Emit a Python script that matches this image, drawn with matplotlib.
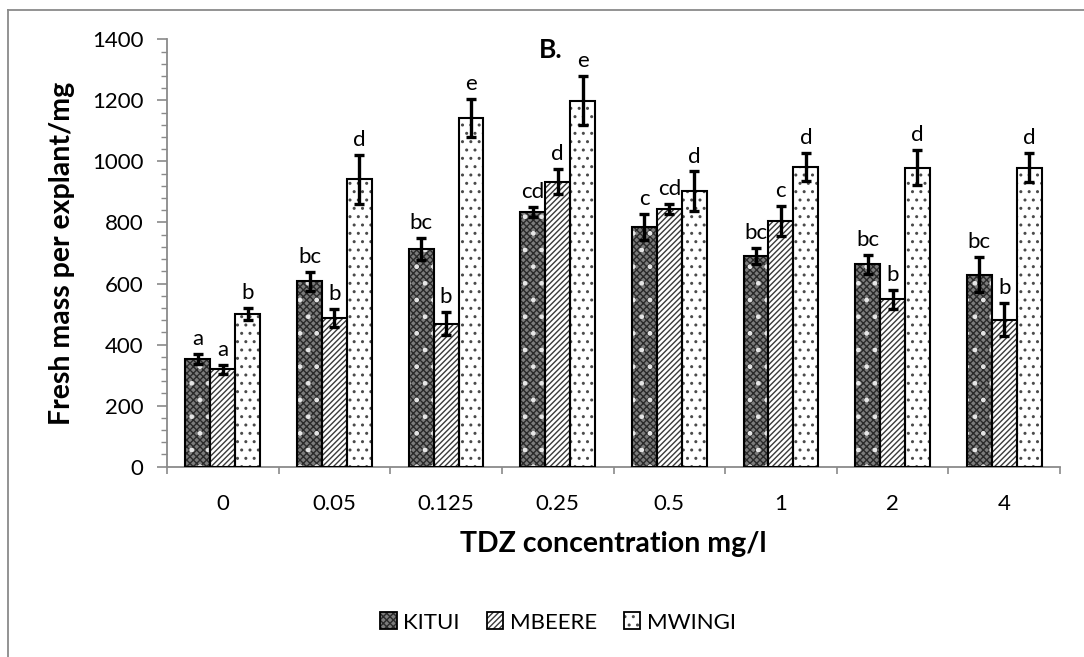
import matplotlib
matplotlib.use("Agg")
import matplotlib.pyplot as plt
from matplotlib.lines import Line2D
from matplotlib.patches import Patch, Rectangle
from matplotlib.legend_handler import HandlerBase
import numpy as np

plt.rcParams['font.family'] = ['Lato', 'DejaVu Sans']
plt.rcParams['hatch.linewidth'] = 1.0

categories = ["0", "0.05", "0.125", "0.25", "0.5", "1", "2", "4"]
series_names = ["KITUI", "MBEERE", "MWINGI"]

kitui = [352, 608, 713, 835, 785, 691, 663, 629]
mbeere = [319, 488, 469, 934, 844, 804, 548, 482]
mwingi = [499, 942, 1142, 1199, 902, 982, 980, 980]

kitui_err = [17, 31, 37, 17, 43, 27, 32, 58]
mbeere_err = [15, 30, 38, 41, 17, 49, 30, 55]
mwingi_err = [20, 80, 62, 81, 65, 45, 58, 48]

kitui_lbl = ["a", "bc", "bc", "cd", "c", "bc", "bc", "bc"]
mbeere_lbl = ["a", "b", "b", "d", "cd", "c", "b", "b"]
mwingi_lbl = ["b", "d", "e", "e", "d", "d", "d", "d"]

values = [kitui, mbeere, mwingi]
errors = [kitui_err, mbeere_err, mwingi_err]
letters = [kitui_lbl, mbeere_lbl, mwingi_lbl]

# fill styles: (face colour, hatch, hatch colour, sparkle layer)
styles = [
    ("#7c7c7c", "xxxxx", "#2a2a2a", True),
    ("white", "//////", "#3a3a3a", False),
    ("white", "..", "#4a4a4a", False),
]

W, H = 1084, 657
fig = plt.figure(figsize=(W / 100, H / 100), dpi=100)
ax = fig.add_axes([167 / W, 1 - 466.7 / H, (1060 - 167) / W, (466.7 - 39.3) / H])

x = np.arange(len(categories))
bw = 0.223
offsets = [-bw, 0, bw]

for vals, errs, lbls, off, (fc, hatch, hc, sparkle) in zip(values, errors, letters, offsets, styles):
    pos = x + off
    ax.bar(pos, vals, bw, color=fc, hatch=hatch, edgecolor=hc, linewidth=0, zorder=2)
    if sparkle:
        ax.bar(pos, vals, bw, color="none", hatch=".", edgecolor="#e6e6e6", linewidth=0, zorder=2.1)
    ax.bar(pos, vals, bw, color="none", edgecolor="black", linewidth=1.5, zorder=3)
    ax.errorbar(pos, vals, yerr=errs, fmt="none", ecolor="black", elinewidth=2.4,
                capsize=3.8, capthick=2.4, zorder=4)
    for p, v, e, t in zip(pos, vals, errs, lbls):
        ax.annotate(t, (p, v + e), xytext=(0, 3.5), textcoords="offset points",
                    ha="center", va="bottom", fontsize=16, color="black", zorder=5)

ax.set_xlim(-0.5, len(categories) - 0.5)
ax.set_ylim(0, 1400)
ax.set_yticks(np.arange(0, 1401, 200))
ax.set_yticks(np.arange(0, 1401, 40), minor=True)
ax.set_xticks(x)
ax.set_xticklabels(categories)
ax.set_xticks(np.arange(-0.5, len(categories)), minor=True)

axis_grey = "#8a8a8a"
for s in ("top", "right"):
    ax.spines[s].set_visible(False)
for s in ("left", "bottom"):
    ax.spines[s].set_color(axis_grey)
    ax.spines[s].set_linewidth(1.3)

ax.tick_params(axis="y", which="major", length=7, width=1.2, color=axis_grey,
               labelsize=16, pad=10)
ax.tick_params(axis="y", which="minor", length=4.3, width=1.0, color=axis_grey)
ax.tick_params(axis="x", which="major", length=0, labelsize=16, pad=20)
ax.tick_params(axis="x", which="minor", length=5, width=1.2, color=axis_grey)

ax.set_ylabel("Fresh mass per explant/mg", fontsize=20.5, fontweight="bold", labelpad=12)
ax.set_xlabel("TDZ concentration mg/l", fontsize=20.5, fontweight="bold", labelpad=12)

fig.text(551 / W, 1 - 50 / H, "B.", fontsize=19, fontweight="bold", ha="center", va="center")


class SwatchHandler(HandlerBase):
    """Draws a small patterned square for each legend entry."""
    def create_artists(self, legend, orig, xd, yd, width, height, fontsize, trans):
        fc, hatch, hc, sparkle = orig.style
        s = min(width, height)
        x0 = xd + (width - s)
        y0 = yd + (height - s) / 2
        r1 = Rectangle((x0, y0), s, s, facecolor=fc, hatch=hatch, edgecolor=hc,
                       linewidth=0, transform=trans)
        r2 = Rectangle((x0, y0), s, s, facecolor="none", edgecolor="black",
                       linewidth=1.3, transform=trans)
        return [r1, r2]


handles = []
for name, st in zip(series_names, styles):
    h = Patch(label=name)
    h.style = st
    handles.append(h)

fig.legend(handles=handles, loc="center", bbox_to_anchor=(558 / W, 1 - 623 / H),
           ncol=3, frameon=False, fontsize=16, handlelength=0.75, handleheight=0.75,
           handletextpad=0.3, columnspacing=1.2,
           handler_map={Patch: SwatchHandler()})

# chart-area border
border = "#8a8a8a"
fig.add_artist(Line2D([8 / W, 1], [1 - 10 / H, 1 - 10 / H], color=border, lw=1.3,
                      transform=fig.transFigure))
fig.add_artist(Line2D([8 / W, 8 / W], [0, 1 - 10 / H], color=border, lw=1.3,
                      transform=fig.transFigure))

fig.savefig("out.png", dpi=100)
